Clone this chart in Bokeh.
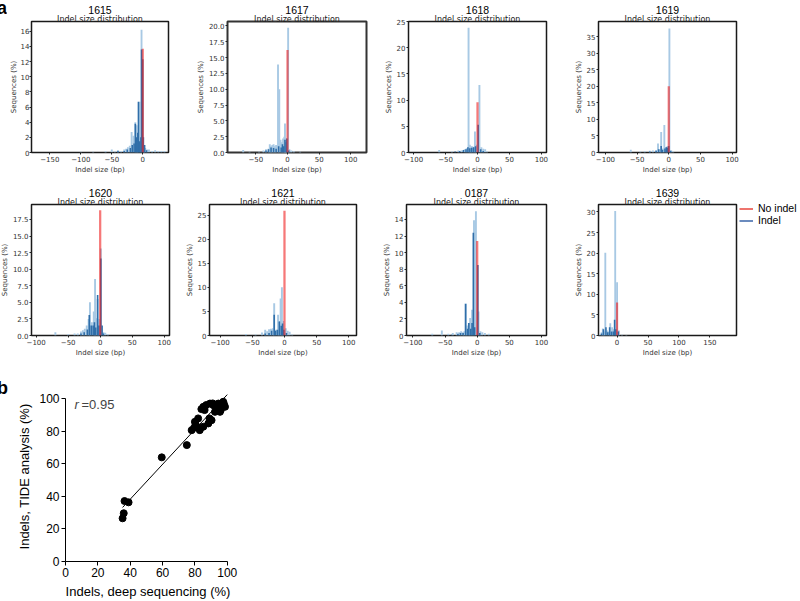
import numpy as np
from bokeh.plotting import figure
from bokeh.models import (Range1d, FixedTicker, Title, Legend, LegendItem, Label, Div,
                          CustomJSTickFormatter)
from bokeh.layouts import row, column
from bokeh.embed import file_html
from bokeh.resources import INLINE

# ---------------- data: panel a (indel size distributions, % of sequences) ----------------
P1615_LX = [-100, -80, -60, -50, -45, -40, -35, -30, -27, -24, -21, -18, -15, -12, -10, -8, -5, -2, 2, 4, 7, 10, 15, 20, 25, 30, 35]
P1615_LY = [0.1, 0.1, 0.15, 0.4, 0.15, 0.3, 0.2, 0.4, 0.5, 0.7, 0.9, 2.7, 2.2, 4.0, 3.6, 2.5, 6.7, 16.2, 1.0, 0.6, 0.4, 0.4, 0.2, 0.3, 0.2, 0.2, 0.2]
P1615_DX = [-40, -30, -25, -20, -17, -14, -12, -10, -8, -7, -5, -3, -2, 0, 1, 3, 6]
P1615_DY = [0.2, 0.2, 0.4, 0.6, 1.0, 1.2, 3.8, 2.0, 2.6, 6.7, 1.5, 2.0, 13.6, 12.3, 2.0, 1.0, 0.3]
P1615_NOINDEL = 13.7

P1617_LX = [-70, -60, -45, -38, -34, -30, -28, -26, -24, -22, -20, -18, -15, -13, -11, -9, -7, -5, -4, -3, -2, 1, 3, 6, 10, 20]
P1617_LY = [0.4, 0.1, 0.1, 0.3, 0.5, 0.6, 1.3, 1.0, 1.2, 1.3, 1.0, 1.2, 13.9, 10.0, 2.0, 1.6, 2.2, 2.5, 4.6, 2.3, 2.0, 19.7, 0.5, 0.3, 0.2, 0.1]
P1617_DX = [-34, -30, -26, -22, -18, -14, -10, -8, -6, -4, -2, -1, 2]
P1617_DY = [0.3, 0.5, 0.8, 0.7, 0.6, 1.0, 0.8, 1.3, 1.0, 2.0, 1.6, 2.2, 0.3]
P1617_NOINDEL = 16.2

P1618_LX = [-60, -40, -30, -25, -20, -17, -14, -12, -10, -8, -6, -4, -2, 3, 6, 9, 12, 15]
P1618_LY = [0.5, 0.2, 0.4, 0.4, 0.6, 0.8, 23.8, 1.5, 1.2, 1.2, 1.0, 4.0, 1.5, 12.9, 1.0, 0.7, 0.6, 0.2]
P1618_DX = [-35, -28, -22, -18, -15, -12, -9, -6, -3, 1, 5, 9]
P1618_DY = [0.2, 0.3, 0.5, 0.6, 1.0, 0.8, 0.9, 1.0, 1.2, 5.3, 0.6, 0.3]
P1618_NOINDEL = 9.6

P1619_LX = [-60, -45, -38, -30, -25, -20, -17, -14, -12, -9, -7, -4, -2, 1, 4, 7]
P1619_LY = [0.8, 0.3, 0.4, 0.5, 0.6, 0.7, 2.7, 1.0, 6.2, 1.2, 8.3, 1.5, 2.0, 37.5, 0.6, 0.3]
P1619_DX = [-30, -20, -16, -12, -10, -6, -4, -2, 0, 3]
P1619_DY = [0.3, 0.5, 1.0, 2.0, 0.8, 1.2, 1.6, 1.5, 2.0, 0.5]
P1619_NOINDEL = 20.0

P1620_LX = [-70, -50, -40, -35, -30, -27, -24, -21, -18, -16, -13, -10, -8, -6, -4, -2, 1, 5, 8, 12]
P1620_LY = [0.5, 0.2, 0.3, 0.3, 0.6, 0.8, 1.0, 1.5, 2.5, 5.0, 2.0, 3.6, 8.5, 2.6, 5.5, 2.5, 13.1, 0.5, 0.4, 0.2]
P1620_DX = [-30, -25, -20, -17, -14, -11, -9, -7, -4, -2, 1, 3, 5]
P1620_DY = [0.3, 0.5, 0.9, 3.1, 1.5, 1.5, 2.0, 1.2, 6.1, 1.5, 11.6, 1.5, 0.3]
P1620_NOINDEL = 18.9

P1621_LX = [-60, -45, -35, -30, -27, -24, -21, -18, -16, -13, -10, -8, -6, -4, -2, 2, 5, 8, 12]
P1621_LY = [0.3, 0.2, 0.6, 1.2, 0.9, 1.3, 1.4, 1.5, 6.7, 1.2, 4.3, 3.0, 7.7, 10.0, 3.0, 1.5, 1.0, 0.8, 0.2]
P1621_DX = [-30, -24, -20, -16, -14, -11, -8, -5, -3, -1, 3]
P1621_DY = [0.4, 0.5, 1.0, 4.3, 1.0, 1.2, 2.9, 2.0, 2.5, 1.2, 0.5]
P1621_NOINDEL = 25.9

P0187_LX = [-70, -55, -45, -38, -32, -28, -25, -22, -20, -18, -16, -13, -11, -8, -5, -2, 2, 5, 8, 12, 18]
P0187_LY = [0.2, 0.6, 0.2, 0.3, 0.4, 0.4, 0.5, 0.4, 0.5, 3.9, 1.2, 1.5, 2.1, 3.1, 13.9, 15.0, 2.9, 0.5, 0.4, 0.3, 0.2]
P0187_DX = [-40, -30, -26, -22, -18, -15, -13, -10, -8, -6, -4, 1, 4]
P0187_DY = [0.1, 0.2, 0.3, 0.3, 3.8, 0.8, 1.5, 0.8, 1.5, 12.4, 1.0, 8.5, 0.3]
P0187_NOINDEL = 11.4

P1639_LX = [-28, -25, -23, -21, -19, -16, -13, -11, -8, -6, -3, 0, 3, 8, 15]
P1639_LY = [0.3, 0.8, 1.7, 1.0, 20.1, 1.2, 1.0, 3.0, 2.0, 1.5, 30.2, 12.9, 1.2, 0.2, 0.1]
P1639_DX = [-25, -22, -18, -15, -12, -9, -6, -4, -2, 2]
P1639_DY = [0.5, 1.5, 2.0, 0.8, 2.0, 1.0, 1.0, 3.8, 1.5, 1.0]
P1639_NOINDEL = 8.0

LEGEND_LABELS = ["No indel", "Indel"]

# ---------------- data: panel b (indels %, deep sequencing vs TIDE) ----------------
DEEP_SEQ = [35.3, 36.0, 36.5, 39.0, 59.5, 75.0, 78.0, 80.0, 81.0, 82.0, 83.0, 85.2, 80.5, 79.5,
            85.2, 86.0, 88.3, 90.3, 89.0, 89.3, 91.4, 93.4, 94.5, 96.5, 97.5, 98.6, 92.4, 95.5,
            84.0, 87.0, 91.0, 93.0, 96.0, 98.0]
TIDE = [26.5, 29.6, 37.1, 36.3, 63.9, 71.4, 80.6, 85.7, 82.6, 87.8, 80.6, 82.7, 84.0, 82.0,
        94.9, 92.9, 84.7, 86.7, 87.8, 96.9, 95.9, 93.9, 96.9, 94.9, 98.0, 94.9, 91.8, 91.8,
        93.5, 96.0, 97.0, 95.5, 93.0, 96.5]
R_TEXT = "=0.95"

LIGHT = "#a8c9e4"
DARK = "#2f6ea9"
RED = "#f01e1e"
FRAME_H = 131

MINUS_FMT = "return (tick < 0 ? '\u2212' : '') + Math.abs(tick).toFixed(0);"
INT_FMT = "return tick.toFixed(0);"
DEC_FMT = "return tick.toFixed(1);"


def style_axis(ax, fmt, standoff=1):
    ax.axis_line_color = None
    ax.major_tick_out = 2
    ax.major_tick_in = 0
    ax.minor_tick_out = 0
    ax.minor_tick_in = 0
    ax.major_tick_line_color = "#222222"
    ax.major_label_text_font = "DejaVu Sans"
    ax.major_label_text_font_size = "7px"
    ax.major_label_text_color = "#333333"
    ax.axis_label_text_font = "DejaVu Sans"
    ax.axis_label_text_font_size = "7px"
    ax.axis_label_text_font_style = "normal"
    ax.axis_label_text_color = "#333333"
    ax.major_label_standoff = standoff
    ax.axis_label_standoff = standoff
    ax.formatter = CustomJSTickFormatter(code=fmt)


def hist_panel(name, lx, ly, dx, dy, noindel, xr, ymax, yticks, xticks, yfmt,
               bl, fw, br, bt, outline_w=1.5, outline_c="#1a1a1a", ystandoff=1):
    p = figure(frame_width=fw, frame_height=FRAME_H, x_range=Range1d(*xr),
               y_range=Range1d(0, ymax), output_backend="svg", toolbar_location=None,
               min_border_left=bl, min_border_right=br, min_border_top=bt,
               min_border_bottom=21, title=None)
    p.background_fill_color = "white"
    p.border_fill_color = "white"
    p.outline_line_color = outline_c
    p.outline_line_width = outline_w
    p.xgrid.visible = False
    p.ygrid.visible = False
    p.vbar(x=lx, top=ly, width=3.0, fill_color=LIGHT, line_color=None)
    p.vbar(x=dx, top=dy, width=2.5, fill_color=DARK, line_color=None)
    p.vbar(x=[0], top=[noindel], width=3.5, fill_color=RED, fill_alpha=0.6, line_color=None)
    p.xaxis.ticker = FixedTicker(ticks=xticks)
    p.yaxis.ticker = FixedTicker(ticks=yticks)
    style_axis(p.xaxis[0], MINUS_FMT)
    style_axis(p.yaxis[0], yfmt, ystandoff)
    p.xaxis.axis_label = "Indel size (bp)"
    p.yaxis.axis_label = "Sequences (%)"
    p.add_layout(Title(text="Indel size distribution", align="center", text_font="DejaVu Sans",
                       text_font_size="8px", text_font_style="normal", text_color="#222222",
                       standoff=-4, offset=0), "above")
    p.add_layout(Title(text=name, align="center", text_font="Liberation Sans",
                       text_font_size="10.5px", text_font_style="normal", text_color="black",
                       standoff=1, offset=0), "above")
    return p


XT_STD = [-100, -50, 0, 50, 100]

f1615 = hist_panel("1615", P1615_LX, P1615_LY, P1615_DX, P1615_DY, P1615_NOINDEL,
                   (-179.5, 41.5), 17.3, list(range(0, 17, 2)), [-150, -100, -50, 0], INT_FMT,
                   20, 137, 25, 24, ystandoff=0)
f1617 = hist_panel("1617", P1617_LX, P1617_LY, P1617_DX, P1617_DY, P1617_NOINDEL,
                   (-94.8, 124.8), 20.7, [0, 2.5, 5, 7.5, 10, 12.5, 15, 17.5, 20], [-50, 0, 50, 100],
                   DEC_FMT, 30, 139, 15, 24, outline_w=2.0, outline_c="#333333")
f1618 = hist_panel("1618", P1618_LX, P1618_LY, P1618_DX, P1618_DY, P1618_NOINDEL,
                   (-108, 108), 25.0, [0, 5, 10, 15, 20, 25], XT_STD, INT_FMT, 27, 138, 25, 24)
f1619 = hist_panel("1619", P1619_LX, P1619_LY, P1619_DX, P1619_DY, P1619_NOINDEL,
                   (-111, 107), 39.6, [0, 5, 10, 15, 20, 25, 30, 35], XT_STD, INT_FMT, 23, 138, 66, 24)

f1620 = hist_panel("1620", P1620_LX, P1620_LY, P1620_DX, P1620_DY, P1620_NOINDEL,
                   (-107.3, 108.3), 19.75, [0, 2.5, 5, 7.5, 10, 12.5, 15, 17.5], XT_STD, DEC_FMT,
                   31, 138, 13, 28)
f1621 = hist_panel("1621", P1621_LX, P1621_LY, P1621_DX, P1621_DY, P1621_NOINDEL,
                   (-116.6, 112), 27.2, [0, 5, 10, 15, 20, 25], XT_STD, INT_FMT, 26, 147, 23, 28)
f0187 = hist_panel("0187", P0187_LX, P0187_LY, P0187_DX, P0187_DY, P0187_NOINDEL,
                   (-110, 107.8), 15.8, list(range(0, 15, 2)), XT_STD, INT_FMT, 25, 140, 25, 28)
f1639 = hist_panel("1639", P1639_LX, P1639_LY, P1639_DX, P1639_DY, P1639_NOINDEL,
                   (-30, 193), 31.8, [0, 5, 10, 15, 20, 25, 30], [0, 50, 100, 150], INT_FMT,
                   23, 138, 66, 28)

# legend (No indel / Indel): style-only renderers with no visible points
r_red = f1639.line(x=[0.0, 0.0], y=[np.nan, np.nan], line_color="#e8463c", line_width=1.5)
r_blue = f1639.line(x=[0.0, 0.0], y=[np.nan, np.nan], line_color="#3a64a8", line_width=1.5)
legend = Legend(items=[LegendItem(label=LEGEND_LABELS[0], renderers=[r_red]),
                       LegendItem(label=LEGEND_LABELS[1], renderers=[r_blue])],
                location=(3, 109), orientation="vertical", margin=0, padding=2, spacing=-2,
                label_height=11, glyph_height=11, glyph_width=14, label_standoff=5,
                label_text_font="Liberation Sans", label_text_font_size="10.5px",
                label_text_color="black", border_line_color=None, background_fill_alpha=0)
f1639.add_layout(legend, "right")

div_a = Div(text="<div style=\"font: bold 18px 'Liberation Sans', Arial, sans-serif; "
                 "line-height: 18px; padding-top: 1.5px; color: black;\">a</div>",
            width=9, height=20, margin=(0, 0, 0, 0))

# ---------------- panel b ----------------
pb = figure(frame_width=165, frame_height=170, x_range=Range1d(0, 102), y_range=Range1d(0, 104.3),
            output_backend="svg", toolbar_location=None, min_border_left=56, min_border_right=8,
            min_border_top=32, min_border_bottom=40, title=None)
pb.outline_line_color = None
pb.xgrid.visible = False
pb.ygrid.visible = False
pb.scatter(DEEP_SEQ, TIDE, size=7, fill_color="black", line_color="black")
fit = np.polyfit(DEEP_SEQ, TIDE, 1)
fx = np.array([min(DEEP_SEQ), 100.0])
pb.line(fx, np.polyval(fit, fx), line_color="black", line_width=1)
for ax in (pb.xaxis[0], pb.yaxis[0]):
    ax.bounds = (0, 100)
    ax.ticker = FixedTicker(ticks=[0, 20, 40, 60, 80, 100])
    ax.axis_line_color = "black"
    ax.axis_line_width = 1
    ax.major_tick_out = 4
    ax.major_tick_in = 0
    ax.minor_tick_out = 0
    ax.minor_tick_in = 0
    ax.major_tick_line_color = "black"
    ax.major_label_text_font = "Liberation Sans"
    ax.major_label_text_font_size = "12px"
    ax.major_label_text_color = "black"
    ax.major_label_standoff = 2
    ax.axis_label_text_font = "Liberation Sans"
    ax.axis_label_text_font_size = "13px"
    ax.axis_label_text_font_style = "normal"
    ax.axis_label_text_color = "black"
    ax.axis_label_standoff = 4
pb.xaxis.axis_label = "Indels, deep sequencing (%)"
pb.yaxis.axis_label = "Indels, TIDE analysis (%)"
pb.add_layout(Label(x=5.5, y=96.3, text="r", text_font="Liberation Sans", text_font_size="13px",
                    text_font_style="italic", text_baseline="middle", text_align="left"))
pb.add_layout(Label(x=9.9, y=96.3, text=R_TEXT, text_font="Liberation Sans", text_font_size="13px",
                    text_baseline="middle", text_align="left"))

div_b = Div(text="<div style=\"font: bold 18px 'Liberation Sans', Arial, sans-serif; "
                 "line-height: 18px; padding-top: 20px; color: black;\">b</div>",
            width=12, height=42, margin=(0, 0, 0, 0))

layout = column(row(div_a, f1615, f1617, f1618, f1619),
                row(f1620, f1621, f0187, f1639),
                row(div_b, pb),
                styles={"margin": "-3px -8px -8px -3px"})

open("out.html", "w").write(file_html(layout, INLINE))
